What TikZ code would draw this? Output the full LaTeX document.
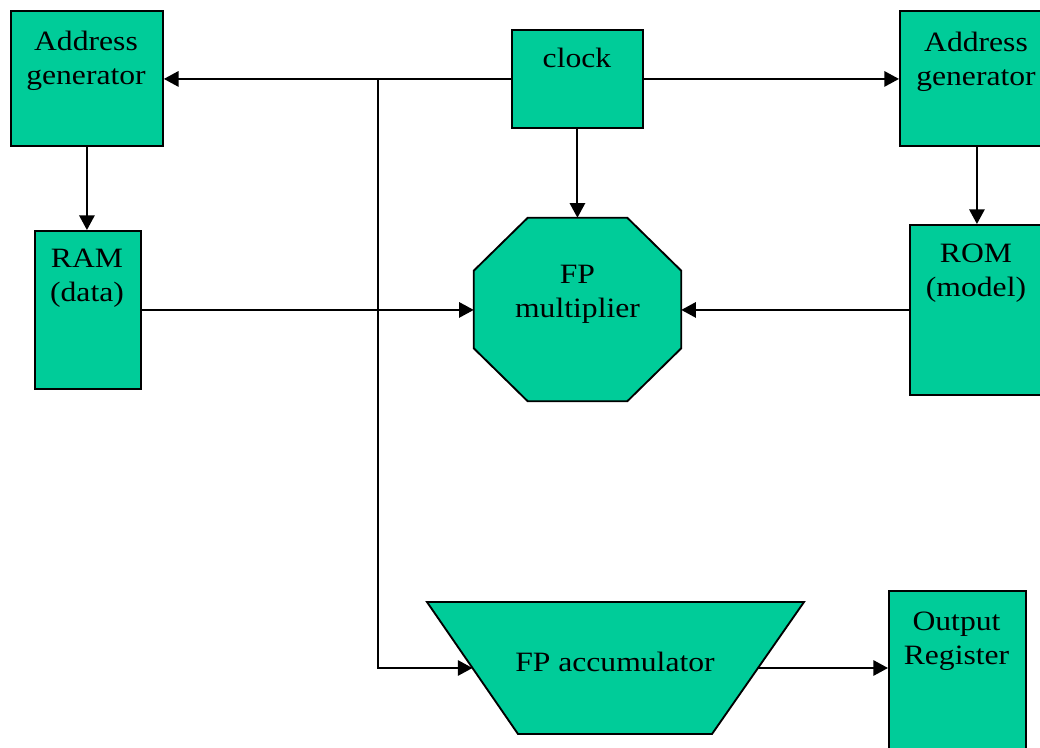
\documentclass[tikz,border=0pt]{standalone}
\usepackage{fontspec}
\setmainfont{Liberation Serif}[FakeStretch=1.13]
\usetikzlibrary{arrows.meta}
\definecolor{boxgreen}{RGB}{0,204,153}
\begin{document}
\begin{tikzpicture}[x=0.75pt,y=-0.75pt,
  box/.style={draw=black,line width=1.4pt,fill=boxgreen,rectangle,inner sep=0pt,anchor=north west},
  shapefill/.style={draw=black,line width=1.4pt,fill=boxgreen,line join=miter},
  lbl/.style={font=\fontsize{21}{25.5}\selectfont,align=center,inner sep=0pt,anchor=base},
  conn/.style={line width=1.5pt,-{Triangle[length=11pt,width=11.5pt]}}]
\useasboundingbox (0,0) rectangle (1040,747);
\clip (0,0) rectangle (1040,747);
% boxes
\node[box,minimum width=114pt,minimum height=101.25pt] (agl) at (10,10) {};
\node[box,minimum width=98.25pt,minimum height=73.5pt] (clk) at (511,29) {};
\node[box,minimum width=115.5pt,minimum height=101.25pt] (agr) at (899,10) {};
\node[box,minimum width=79.5pt,minimum height=118.5pt] (ram) at (34,230) {};
\node[box,minimum width=100.5pt,minimum height=127.5pt] (rom) at (909,224) {};
\node[box,minimum width=102.75pt,minimum height=127.5pt] (out) at (888,590) {};
% multiplier (octagon)
\node[rectangle,minimum width=155.25pt,minimum height=137.25pt,inner sep=0pt] (mul) at (577.5,309.5) {};
\path[shapefill] ([xshift=40.5pt]mul.north west) -- ([xshift=-40.5pt]mul.north east)
  -- ([yshift=-39.75pt]mul.north east) -- ([yshift=39.75pt]mul.south east)
  -- ([xshift=-40.5pt]mul.south east) -- ([xshift=40.5pt]mul.south west)
  -- ([yshift=39.75pt]mul.south west) -- ([yshift=-39.75pt]mul.north west) -- cycle;
% accumulator (inverted trapezoid)
\coordinate (accTL) at (427,602);
\coordinate (accTR) at (804,602);
\coordinate (accBR) at (712,734);
\coordinate (accBL) at (518,734);
\coordinate (accL) at (472.5,668);
\coordinate (accR) at (758,668);
\path[shapefill] (accTL) -- (accTR) -- (accBR) -- (accBL) -- cycle;
% labels
\node[lbl] (aglt) at (86,84.3) {Address\\generator};
\node[lbl] (agrt) at (976,85) {Address\\generator};
\node[lbl] (clkt) at (577,67.7) {clock};
\node[lbl] (ramt) at (87,301.7) {RAM\\(data)};
\node[lbl] (romt) at (976,296.7) {ROM\\(model)};
\node[lbl] (outt) at (956.5,664.3) {Output\\Register};
\node[lbl] (mult) at (577.5,317.3) {FP\\multiplier};
\node[lbl] (acct) at (615,671) {FP accumulator};
% connectors
\coordinate (j) at (378,78);
\draw[conn] (clk.west) -- (clk.west -| agl.east);
\draw[conn] (clk.east) -- (clk.east -| agr.west);
\draw[conn] (j) |- (accL);
\draw[conn] (accR) -- (accR -| out.west);
\draw[conn] (clk.south) -- (clk.south |- mul.north);
\draw[conn] (agl.south) -- (agl.south |- ram.north);
\draw[conn] (agr.south) -- (agr.south |- rom.north);
\draw[conn] (ram.east) -- (ram.east -| mul.west);
\draw[conn] (rom.west) -- (rom.west -| mul.east);
\end{tikzpicture}
\end{document}
